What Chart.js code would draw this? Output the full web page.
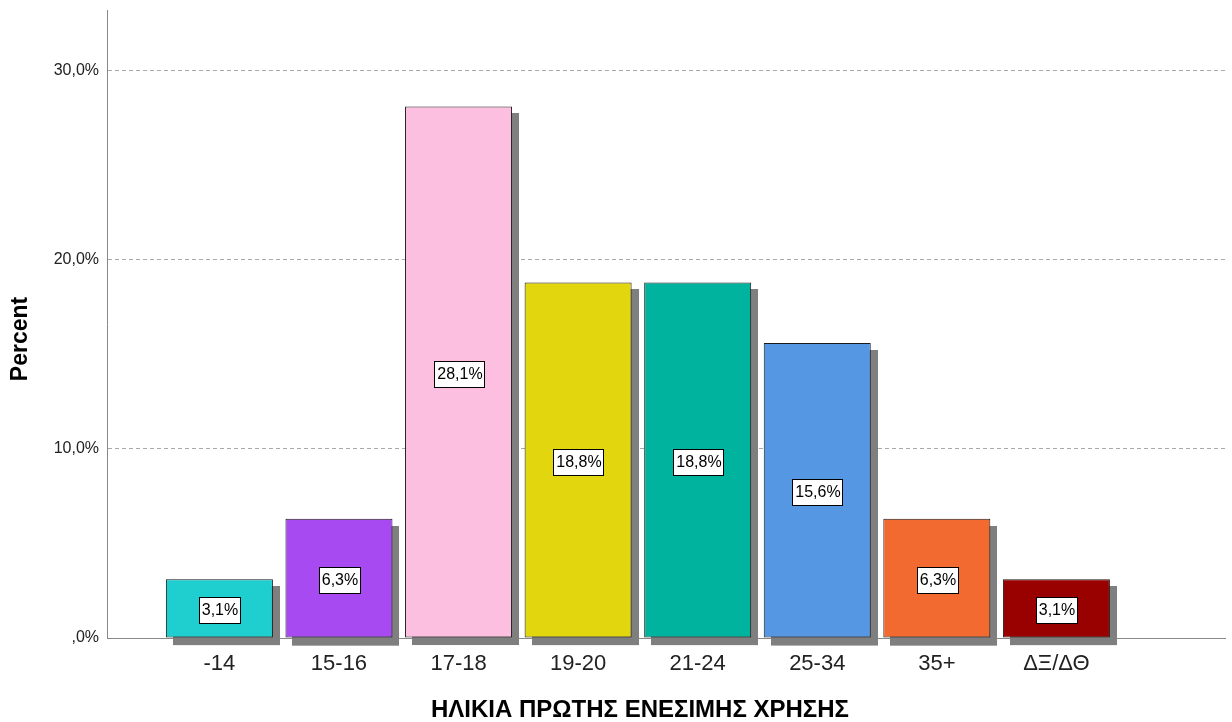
<!DOCTYPE html>
<html>
<head>
<meta charset="utf-8">
<script src="https://cdn.jsdelivr.net/npm/chart.js@4/dist/chart.umd.min.js"></script>
<style>
  html, body { margin: 0; padding: 0; background: #fff; }
  #wrap { width: 1232px; height: 722px; }
</style>
</head>
<body>
<div id="wrap"><canvas id="myChart" width="1232" height="722"></canvas></div>
<script>
// chart data
const ageGroups = ['-14', '15-16', '17-18', '19-20', '21-24', '25-34', '35+', 'ΔΞ/ΔΘ'];
const percentValues = [3.1, 6.3, 28.1, 18.8, 18.8, 15.6, 6.3, 3.1];
const barColors = ['#1fcfcf', '#a74af2', '#fdbfe0', '#e2d70f', '#00b39f', '#5697e3', '#f26a2f', '#990000'];
const yTicks = [0, 10, 20, 30];

const FONT = '"Liberation Sans", Arial, sans-serif';
const fmt = v => (v === 0 ? ',0' : v.toFixed(1).replace('.', ',')) + '%';

// grey drop shadow behind each bar
const shadowPlugin = {
    id: 'shadows',
    beforeDatasetsDraw(chart) {
        const ctx = chart.ctx;
        ctx.save();
        ctx.fillStyle = '#7f7f7f';
        chart.getDatasetMeta(0).data.forEach(bar => {
            const w = bar.width;
            ctx.fillRect(Math.round(bar.x - w / 2) + 7, Math.round(bar.y) + 7, w, bar.base - bar.y + 1);
        });
        ctx.restore();
    }
};

// white boxed value labels in the middle of the bars
const labelPlugin = {
    id: 'boxLabels',
    afterDatasetsDraw(chart) {
        const ctx = chart.ctx;
        ctx.save();
        ctx.font = '16px ' + FONT;
        ctx.textAlign = 'center';
        ctx.textBaseline = 'middle';
        chart.getDatasetMeta(0).data.forEach((bar, i) => {
            const txt = fmt(percentValues[i]);
            const tw = ctx.measureText(txt).width;
            const cx = Math.round(bar.x);
            const cy = Math.round((bar.y + bar.base) / 2) + 2;
            const bw = Math.round(tw + 5), bh = 26;
            const left = Math.round(cx - bw / 2), top = Math.round(cy - bh / 2);
            ctx.fillStyle = '#fff';
            ctx.fillRect(left, top, bw, bh);
            ctx.strokeStyle = '#000';
            ctx.lineWidth = 1;
            ctx.strokeRect(left + 0.5, top + 0.5, bw, bh);
            ctx.fillStyle = '#000';
            ctx.fillText(txt, cx + 1, cy + 1);
        });
        ctx.restore();
    }
};

// axis titles
const titlePlugin = {
    id: 'axisTitles',
    afterDraw(chart) {
        const ctx = chart.ctx;
        ctx.save();
        ctx.fillStyle = '#000';
        ctx.font = 'bold 24px ' + FONT;
        ctx.textAlign = 'center';
        ctx.textBaseline = 'middle';
        ctx.fillText('ΗΛΙΚΙΑ ΠΡΩΤΗΣ ΕΝΕΣΙΜΗΣ ΧΡΗΣΗΣ', 640, 710);
        ctx.font = 'bold 23px ' + FONT;
        ctx.translate(21, 339);
        ctx.rotate(-Math.PI / 2);
        ctx.fillText('Percent', 0, 0);
        ctx.restore();
    }
};

const ctx = document.getElementById('myChart').getContext('2d');
const myChart = new Chart(ctx, {
    type: 'bar',
    data: {
        datasets: [{
            label: 'Percent',
            data: percentValues.map((v, i) => ({ x: i, y: v })),
            backgroundColor: barColors,
            borderColor: '#1a1a1a',
            borderWidth: 1,
            borderSkipped: false,
            barPercentage: 0.895,
            categoryPercentage: 1
        }]
    },
    options: {
        responsive: false,
        animation: false,
        events: [],
        layout: { padding: { top: 10, right: 7, left: 0, bottom: 0 } },
        plugins: { legend: { display: false }, tooltip: { enabled: false } },
        scales: {
            x: {
                type: 'linear',
                offset: false,
                min: -0.94,
                max: 8.41,
                afterBuildTicks: s => { s.ticks = ageGroups.map((_, i) => ({ value: i })); },
                afterFit: s => { s.height = 84; s.paddingLeft = 0; s.paddingRight = 0; },
                ticks: {
                    autoSkip: false,
                    maxRotation: 0,
                    padding: 5,
                    color: '#222',
                    font: { family: FONT, size: 22 },
                    callback: v => ageGroups[v]
                },
                grid: { display: false },
                border: { display: true, color: '#888', width: 1 }
            },
            y: {
                min: 0,
                max: 33.2,
                afterBuildTicks: s => { s.ticks = yTicks.map(v => ({ value: v })); },
                afterFit: s => { s.width = 107; s.paddingTop = 0; s.paddingBottom = 0; },
                ticks: {
                    padding: 8,
                    color: '#222',
                    font: { family: FONT, size: 16 },
                    callback: v => fmt(v)
                },
                grid: {
                    drawTicks: false,
                    color: c => (c.tick && c.tick.value === 0 ? 'rgba(0,0,0,0)' : '#aaa')
                },
                border: { display: true, color: '#888', width: 1, dash: [4, 3] }
            }
        }
    },
    plugins: [shadowPlugin, labelPlugin, titlePlugin]
});
</script>
</body>
</html>
